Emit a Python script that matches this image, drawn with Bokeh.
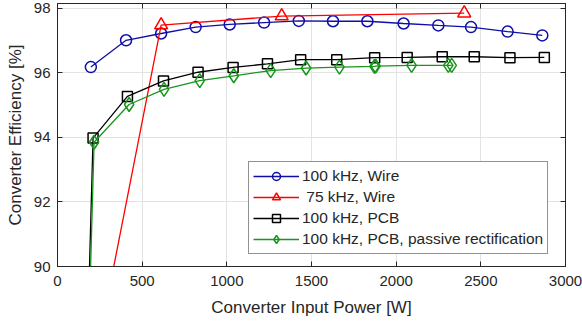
from bokeh.plotting import figure
from bokeh.models import Range1d, LinearAxis, FixedTicker, Legend, LegendItem, CustomJSTickFormatter
from bokeh.embed import file_html
from bokeh.resources import INLINE

# Data
wire100_x = [197, 405, 612, 816, 1017, 1220, 1425, 1627, 1830, 2044, 2249, 2442, 2658, 2863]
wire100_y = [96.18, 97.01, 97.22, 97.42, 97.50, 97.56, 97.61, 97.60, 97.60, 97.53, 97.47, 97.42, 97.28, 97.16]

wire75_x = [205, 612, 1324, 2402]
wire75_y = [86.6, 97.48, 97.76, 97.85]

pcb_x = [180, 210, 413, 626, 830, 1037, 1240, 1436, 1649, 1873, 2065, 2272, 2461, 2672, 2875]
pcb_y = [88.3, 93.98, 95.27, 95.75, 96.02, 96.17, 96.28, 96.41, 96.41, 96.47, 96.48, 96.50, 96.50, 96.47, 96.48]

pas_x = [185, 216, 423, 629, 840, 1041, 1259, 1468, 1665, 1872, 1879, 2091, 2308, 2328]
pas_y = [88.0, 93.85, 95.02, 95.49, 95.76, 95.91, 96.07, 96.15, 96.18, 96.20, 96.21, 96.23, 96.23, 96.23]

labels = ["100 kHz, Wire", " 75 kHz, Wire", "100 kHz, PCB", "100 kHz, PCB, passive rectification"]
x_ticks = [0, 500, 1000, 1500, 2000, 2500, 3000]
y_ticks = [90, 92, 94, 96, 98]

FONT = "Liberation Sans"
TXT = "#262626"

p = figure(width=582, height=322, output_backend="svg", toolbar_location=None,
           x_range=Range1d(0, 3000), y_range=Range1d(90, 98.15),
           min_border_left=57, min_border_right=17, min_border_top=3, min_border_bottom=56)
p.background_fill_color = "white"
p.border_fill_color = "white"
p.outline_line_color = TXT
p.outline_line_width = 1

for ax in (p.xaxis[0], p.yaxis[0]):
    ax.major_label_text_font = FONT
    ax.major_label_text_font_size = "15px"
    ax.major_label_text_color = TXT
    ax.axis_label_text_font = FONT
    ax.axis_label_text_font_size = "17px"
    ax.axis_label_text_font_style = "normal"
    ax.axis_label_text_color = TXT
    ax.axis_line_color = TXT
    ax.major_tick_line_color = TXT
    ax.major_tick_in = 5
    ax.major_tick_out = 0
    ax.minor_tick_line_color = None

p.xaxis[0].ticker = FixedTicker(ticks=x_ticks)
p.yaxis[0].ticker = FixedTicker(ticks=y_ticks)
p.xaxis[0].axis_label = "Converter Input Power [W]"
p.yaxis[0].axis_label = "Converter Efficiency [%]"
p.xaxis[0].major_label_standoff = 9
p.yaxis[0].major_label_standoff = 7
p.xaxis[0].axis_label_standoff = 9
p.yaxis[0].axis_label_standoff = 6

p.xgrid.ticker = FixedTicker(ticks=x_ticks)
p.ygrid.ticker = FixedTicker(ticks=y_ticks)
p.grid.grid_line_color = "#e3e3e3"
p.grid.grid_line_width = 1

blank = CustomJSTickFormatter(code="return '';")
# top/right tick-only axes
top = LinearAxis(ticker=FixedTicker(ticks=x_ticks), formatter=blank,
                 major_label_standoff=0, major_tick_in=5, major_tick_out=0,
                 minor_tick_line_color=None, axis_line_color=TXT, major_tick_line_color=TXT)
right = LinearAxis(ticker=FixedTicker(ticks=y_ticks), formatter=blank,
                   major_label_standoff=0, major_tick_in=5, major_tick_out=0,
                   minor_tick_line_color=None, axis_line_color=TXT, major_tick_line_color=TXT)
p.add_layout(top, "above")
p.add_layout(right, "right")

BLUE = "#0f0fa8"
RED = "#ff0000"
BLACK = "#000000"
GREEN = "#16961a"

l1 = p.line(wire100_x, wire100_y, line_color=BLUE, line_width=1.3)
m1 = p.scatter(wire100_x, wire100_y, marker="circle", size=11, fill_color=None, line_color=BLUE, line_width=1.5)
l2 = p.line(wire75_x, wire75_y, line_color=RED, line_width=1.3)
m2 = p.scatter(wire75_x, wire75_y, marker="triangle", size=13, fill_color=None, line_color=RED, line_width=1.5)
l3 = p.line(pcb_x, pcb_y, line_color=BLACK, line_width=1.3)
m3 = p.scatter(pcb_x, pcb_y, marker="square", size=10, fill_color=None, line_color=BLACK, line_width=1.5)
l4 = p.line(pas_x, pas_y, line_color=GREEN, line_width=1.3)
m4 = p.scatter(pas_x, pas_y, marker="diamond", size=14, fill_color=None, line_color=GREEN, line_width=1.5)

legend = Legend(items=[LegendItem(label=labels[0], renderers=[l1, m1]),
                       LegendItem(label=labels[1], renderers=[l2, m2]),
                       LegendItem(label=labels[2], renderers=[l3, m3]),
                       LegendItem(label=labels[3], renderers=[l4, m4])],
                location=(191, 12))
legend.label_text_font = FONT
legend.label_text_font_size = "15.5px"
legend.label_text_color = TXT
legend.border_line_color = TXT
legend.border_line_width = 1
legend.background_fill_color = "white"
legend.background_fill_alpha = 1
legend.glyph_width = 46
legend.glyph_height = 20
legend.label_height = 20
legend.label_standoff = 3
legend.spacing = 1
legend.padding = 4
legend.margin = 0
p.add_layout(legend, "center")

open("out.html", "w").write(file_html(p, INLINE))
